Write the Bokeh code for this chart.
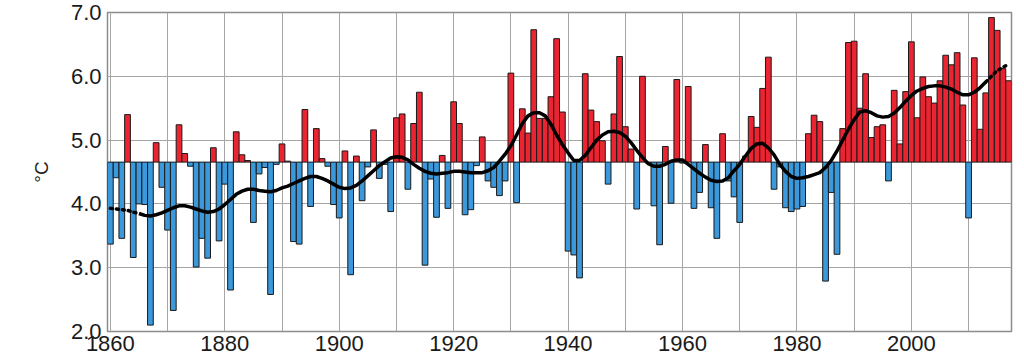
from bokeh.plotting import figure
from bokeh.models import FixedTicker, Range1d, ColumnDataSource, PrintfTickFormatter
from bokeh.embed import file_html
from bokeh.resources import INLINE

# ---- data -------------------------------------------------------------
years = list(range(1860, 2018))

temps = [
    3.37, 4.41, 3.46, 5.40, 3.16, 4.00, 3.99, 2.10, 4.96, 4.26,   # 1860s
    3.59, 2.33, 5.24, 4.79, 4.59, 3.01, 3.46, 3.15, 4.88, 3.42,   # 1870s
    4.31, 2.65, 5.13, 4.77, 4.68, 3.71, 4.47, 4.57, 2.58, 4.62,   # 1880s
    4.94, 4.67, 3.41, 3.37, 5.48, 3.96, 5.18, 4.71, 4.59, 3.99,   # 1890s
    3.78, 4.83, 2.89, 4.75, 4.05, 4.58, 5.16, 4.40, 4.62, 3.88,   # 1900s
    5.35, 5.41, 4.23, 5.26, 5.75, 3.04, 4.39, 3.79, 4.76, 3.93,   # 1910s
    5.60, 5.26, 3.83, 3.91, 4.60, 5.05, 4.36, 4.26, 4.13, 4.36,   # 1920s
    6.05, 4.02, 5.49, 5.11, 6.73, 5.34, 5.34, 5.68, 6.59, 5.44,   # 1930s
    3.26, 3.20, 2.84, 6.04, 5.47, 5.29, 4.99, 4.31, 5.41, 6.31,   # 1940s
    5.21, 4.86, 3.92, 6.00, 4.64, 3.97, 3.36, 4.90, 4.01, 5.95,   # 1950s
    4.64, 5.84, 3.93, 4.18, 4.93, 3.94, 3.46, 5.10, 4.36, 4.11,   # 1960s
    3.71, 4.75, 5.37, 5.20, 5.81, 6.30, 4.23, 4.58, 3.94, 3.88,   # 1970s
    3.92, 3.96, 5.10, 5.39, 5.29, 2.79, 4.18, 3.21, 5.18, 6.53,   # 1980s
    6.55, 5.50, 6.04, 5.04, 5.21, 5.24, 4.36, 5.78, 4.94, 5.76,   # 1990s
    6.54, 5.35, 5.99, 5.68, 5.58, 5.93, 6.33, 6.18, 6.37, 5.55,   # 2000s
    3.78, 6.29, 5.17, 5.74, 6.92, 6.72, 6.12, 5.93,               # 2010s
]

smooth = [
    3.93, 3.92, 3.91, 3.90, 3.87, 3.85, 3.82, 3.81, 3.83, 3.86,
    3.90, 3.94, 3.97, 3.97, 3.95, 3.92, 3.89, 3.87, 3.88, 3.92,
    3.99, 4.07, 4.15, 4.20, 4.23, 4.23, 4.21, 4.20, 4.19, 4.21,
    4.25, 4.28, 4.32, 4.36, 4.40, 4.43, 4.43, 4.40, 4.36, 4.31,
    4.26, 4.24, 4.25, 4.29, 4.36, 4.44, 4.52, 4.60, 4.66, 4.72,
    4.74, 4.73, 4.69, 4.62, 4.56, 4.51, 4.48, 4.47, 4.48, 4.49,
    4.51, 4.51, 4.50, 4.49, 4.49, 4.49, 4.52, 4.57, 4.67, 4.78,
    4.91, 5.08, 5.26, 5.38, 5.43, 5.43, 5.38, 5.25, 5.08, 4.93,
    4.80, 4.68, 4.68, 4.76, 4.88, 5.00, 5.08, 5.13, 5.14, 5.12,
    5.06, 4.96, 4.84, 4.73, 4.63, 4.59, 4.59, 4.62, 4.67, 4.69,
    4.69, 4.62, 4.55, 4.48, 4.42, 4.37, 4.35, 4.36, 4.41, 4.52,
    4.62, 4.75, 4.87, 4.94, 4.95, 4.88, 4.77, 4.62, 4.51, 4.43,
    4.40, 4.41, 4.43, 4.46, 4.49, 4.57, 4.68, 4.83, 5.00, 5.17,
    5.32, 5.44, 5.46, 5.43, 5.38, 5.36, 5.37, 5.42, 5.51, 5.61,
    5.70, 5.77, 5.81, 5.84, 5.85, 5.85, 5.83, 5.80, 5.75, 5.71,
    5.71, 5.75, 5.82, 5.91, 6.00, 6.09, 6.14, 6.19,
]

BASE = 4.655          # reference mean (bar baseline)
SOLID_START = 1865    # smoothed curve is dotted outside this span
SOLID_END = 2013

x_labels = [1860, 1880, 1900, 1920, 1940, 1960, 1980, 2000]
x_grid = list(range(1860, 2011, 10))
y_ticks = [2.0, 3.0, 4.0, 5.0, 6.0, 7.0]

RED = "#EA2430"
BLUE = "#3A98DB"

colors = [RED if t >= BASE else BLUE for t in temps]
bars = ColumnDataSource(dict(x=years, top=temps, bottom=[BASE] * len(temps), color=colors))

# ---- figure -----------------------------------------------------------
p = figure(width=1024, height=362,
           x_range=Range1d(1859.5, 2017.5), y_range=Range1d(2.0, 7.0),
           output_backend="svg", toolbar_location=None,
           min_border_left=107, min_border_right=13,
           min_border_top=12, min_border_bottom=31,
           background_fill_color="white", border_fill_color="white")

p.outline_line_color = "#8c8c8c"
p.outline_line_width = 1.5

p.xaxis.ticker = FixedTicker(ticks=x_labels)
p.yaxis.ticker = FixedTicker(ticks=y_ticks)
p.yaxis.formatter = PrintfTickFormatter(format="%.1f")
p.xgrid.ticker = FixedTicker(ticks=x_grid)

for g in (p.xgrid, p.ygrid):
    g.grid_line_color = "#a6a6a6"
    g.grid_line_width = 1

for ax in (p.xaxis, p.yaxis):
    ax.axis_line_color = None
    ax.major_tick_line_color = None
    ax.minor_tick_line_color = None
    ax.major_tick_out = 0
    ax.major_tick_in = 0
    ax.major_label_text_font = "Liberation Sans"
    ax.major_label_text_font_size = "22px"
    ax.major_label_text_color = "#1a1a1a"

p.xaxis.major_label_standoff = 4
p.yaxis.major_label_standoff = 6
p.yaxis.axis_label = "°C"
p.yaxis.axis_label_text_font = "Liberation Sans"
p.yaxis.axis_label_text_font_size = "19px"
p.yaxis.axis_label_text_font_style = "normal"
p.yaxis.axis_label_text_color = "#1a1a1a"
p.yaxis.axis_label_standoff = 16

p.vbar(x="x", width=1.0, top="top", bottom="bottom", source=bars,
       fill_color="color", line_color="#1a1a1a", line_width=1)

# smoothed curve
solid_x = [y for y in years if SOLID_START <= y <= SOLID_END]
solid_y = [s for y, s in zip(years, smooth) if SOLID_START <= y <= SOLID_END]
left_x = [y for y in years if y <= SOLID_START]
left_y = [s for y, s in zip(years, smooth) if y <= SOLID_START]
right_x = [y for y in years if y >= SOLID_END]
right_y = [s for y, s in zip(years, smooth) if y >= SOLID_END]

p.line(solid_x, solid_y, line_color="black", line_width=3.5, line_join="round")
p.line(left_x, left_y, line_color="black", line_width=3.5, line_dash="2 4", line_cap="round")
p.line(right_x, right_y, line_color="black", line_width=3.5, line_dash="2 4", line_cap="round")

open("out.html", "w").write(file_html(p, INLINE))
